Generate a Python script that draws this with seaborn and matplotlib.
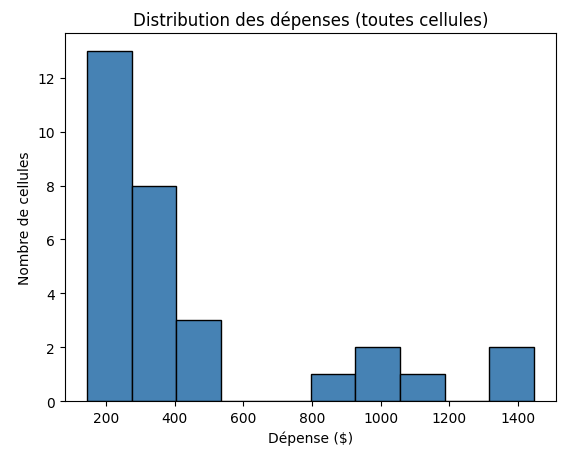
import matplotlib
matplotlib.use("Agg")
import matplotlib.pyplot as plt
import seaborn as sns
import numpy as np
import pandas as pd

bin_edges = np.linspace(145, 1447, 11)
counts = [13, 8, 3, 0, 0, 1, 2, 1, 0, 2]
centers = (bin_edges[:-1] + bin_edges[1:]) / 2
df = pd.DataFrame({"depense": centers, "n": counts})

fig, ax = plt.subplots(figsize=(5.62, 4.56), dpi=100)
sns.histplot(data=df, x="depense", weights="n", bins=list(bin_edges), color="steelblue",
             edgecolor="black", alpha=1, ax=ax)
ax.set_title("Distribution des dépenses (toutes cellules)")
ax.set_xlabel("Dépense ($)")
ax.set_ylabel("Nombre de cellules")
fig.subplots_adjust(left=0.115, right=0.99, top=0.925, bottom=0.118)
fig.savefig("out.png", dpi=100)
